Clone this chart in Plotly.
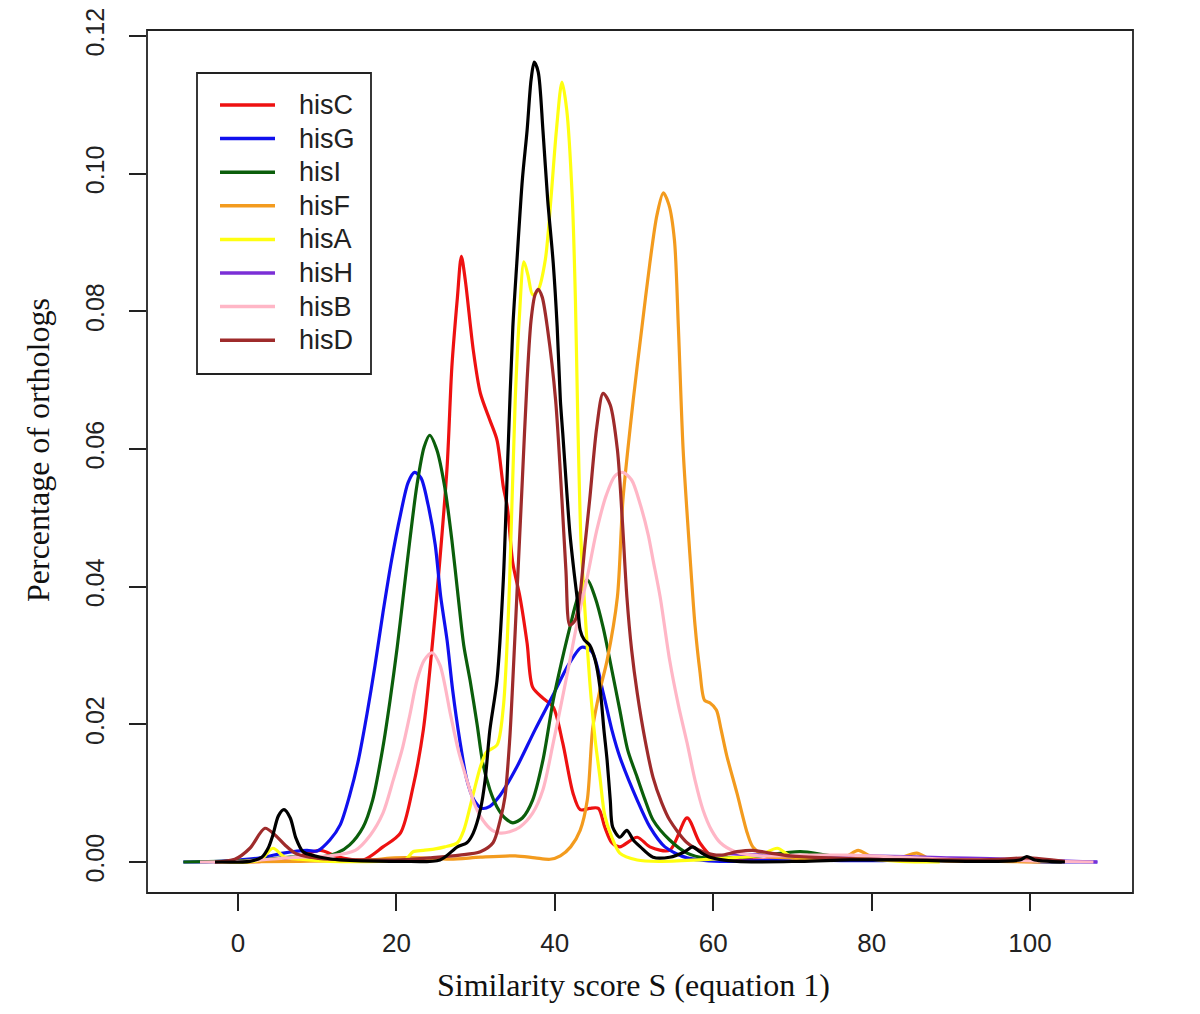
import plotly.graph_objects as go

# ---------------- data ----------------
names = ["hisC", "hisG", "hisI", "hisF", "hisA", "hisH", "hisB", "hisD"]
colors = ["#ee1111", "#1010ee", "#0b5e0b", "#f39b1e", "#ffff10", "#7b2fd6", "#ffb6c6", "#9e2b2b"]

hisC_x = [-3, 3, 7, 10.4, 12.5, 15.8, 18.3, 20.5, 22.1, 23.4, 24.5, 25.2, 26.4, 27.0, 27.7, 28.2, 28.7, 29.7, 30.6,
          31.8, 32.7, 33.5, 34.0, 34.7, 35.6, 36.5, 37.2, 38.5, 39.8, 41.0, 42.3, 43.2, 44.4, 45.5, 46.3, 47.2, 48.2,
          50.4, 52.0, 54.5, 56.7, 58.3, 60.0, 65, 75, 90, 104]
hisC_y = [0, 0.0001, 0.0006, 0.0017, 0.0008, 0.0003, 0.0022, 0.0042, 0.0109, 0.0192, 0.0312, 0.0400, 0.0574,
          0.0719, 0.0820, 0.0880, 0.0845, 0.0744, 0.0681, 0.0642, 0.0613, 0.0545, 0.0516, 0.0434, 0.0385, 0.0318,
          0.0254, 0.0238, 0.0225, 0.0173, 0.0100, 0.0076, 0.0078, 0.0078, 0.0051, 0.0028, 0.0022, 0.0036, 0.0022,
          0.0017, 0.0064, 0.0028, 0.0007, 0.0003, 0.0004, 0.0002, 0]

hisG_x = [-6.9, -2.3, 2.8, 5.7, 8.7, 10.0, 11.6, 12.9, 14.1, 15.2, 16.3, 17.3, 18.3, 19.4, 20.5, 21.5, 22.3, 23.1,
          24.0, 24.9, 25.6, 26.4, 27.1, 28.0, 28.9, 29.8, 30.8, 31.8, 33.1, 35.2, 37.5, 39.8, 41.7, 43.4, 44.7, 46.1,
          47.2, 48.2, 50.4, 52.0, 53.9, 56.7, 60.9, 70, 80, 90, 95, 100, 108.5]
hisG_y = [0, 0.0001, 0.0006, 0.0013, 0.0017, 0.0016, 0.0032, 0.0054, 0.0097, 0.0148, 0.0216, 0.0286, 0.0362,
          0.0439, 0.0504, 0.0552, 0.0566, 0.0558, 0.0519, 0.0461, 0.0385, 0.0322, 0.0250, 0.0177, 0.0119, 0.0090,
          0.0078, 0.0081, 0.0097, 0.0138, 0.0192, 0.0243, 0.0286, 0.0312, 0.0305, 0.0246, 0.0192, 0.0153, 0.0090,
          0.0051, 0.0022, 0.0006, 0.0001, 0.0003, 0.0002, 0.0005, 0.0004, 0.0001, 0]

hisI_x = [-6.9, -2.3, 2.8, 6.6, 10.4, 12.5, 14.1, 15.8, 17.0, 18.3, 19.2, 20.1, 20.8, 21.7, 22.6, 23.5, 24.2, 25.1,
          26.1, 27.0, 27.8, 28.5, 29.3, 30.2, 30.9, 31.8, 32.7, 33.7, 34.7, 35.9, 37.2, 38.5, 39.8, 40.9, 41.9, 42.9,
          44.1, 45.1, 46.1, 47.2, 48.2, 49.2, 50.4, 51.4, 52.4, 54.5, 56.7, 59.0, 65, 71, 75, 85, 100, 104]
hisI_y = [0, 0.0001, 0.0003, 0.0007, 0.0007, 0.0013, 0.0025, 0.0051, 0.0090, 0.0167, 0.0235, 0.0312, 0.0380,
          0.0468, 0.0548, 0.0603, 0.0620, 0.0599, 0.0545, 0.0468, 0.0385, 0.0315, 0.0264, 0.0199, 0.0144, 0.0105,
          0.0080, 0.0064, 0.0057, 0.0064, 0.0090, 0.0148, 0.0235, 0.0293, 0.0341, 0.0384, 0.0410, 0.0384, 0.0341,
          0.0279, 0.0221, 0.0163, 0.0123, 0.0090, 0.0061, 0.0032, 0.0013, 0.0006, 0.0008, 0.0015, 0.0009, 0.0003,
          0.0001, 0]

hisF_x = [-2.3, 7.8, 16.7, 19.8, 23.0, 26.8, 30.6, 35.0, 37.5, 39.4, 40.7, 42.0, 43.2, 44.1, 44.8, 45.7, 46.6, 47.9,
          48.6, 49.9, 51.0, 52.0, 52.9, 53.7, 54.4, 55.1, 55.6, 56.2, 57.1, 57.7, 58.3, 58.9, 59.6, 60.4, 61.0, 61.7,
          63.0, 64.3, 65.0, 66.5, 69.7, 73.5, 76.6, 78.3, 79.8, 83.0, 85.7, 87.4, 91.2, 96.2, 101.3]
hisF_y = [0, 0.0001, 0.0003, 0.0006, 0.0006, 0.0004, 0.0007, 0.0009, 0.0006, 0.0004, 0.0009, 0.0022, 0.0046,
          0.0090, 0.0196, 0.0250, 0.0293, 0.0385, 0.0526, 0.0671, 0.0777, 0.0870, 0.0940, 0.0972, 0.0955, 0.0904,
          0.0777, 0.0599, 0.0439, 0.0344, 0.0279, 0.0235, 0.0231, 0.0221, 0.0192, 0.0155, 0.0100, 0.0042, 0.0022,
          0.0009, 0.0006, 0.0004, 0.0007, 0.0017, 0.0009, 0.0004, 0.0013, 0.0004, 0.0001, 0.0001, 0]

hisA_x = [-2.3, 2.8, 4.4, 5.9, 7.8, 11.6, 17.9, 21.1, 22.1, 23.4, 24.9, 26.1, 27.7, 28.5, 29.3, 30.6, 31.4, 32.7,
          33.5, 34.0, 34.3, 35.0, 35.5, 36.1, 36.6, 37.2, 37.9, 38.8, 39.5, 40.2, 40.9, 41.5, 42.2, 42.6, 42.9, 43.3,
          43.8, 44.4, 45.1, 45.7, 46.3, 47.2, 48.2, 50.4, 53.3, 58.3, 63.4, 65.9, 68.1, 69.7, 74.7, 77.3, 79.8, 83.6,
          88.6]
hisA_y = [0, 0.0003, 0.0020, 0.0007, 0.0004, 0.0001, 0.0001, 0.0003, 0.0015, 0.0017, 0.0019, 0.0022, 0.0028,
          0.0046, 0.0080, 0.0138, 0.0160, 0.0170, 0.0225, 0.0323, 0.0410, 0.0671, 0.0787, 0.0872, 0.0853, 0.0824,
          0.0831, 0.0875, 0.0962, 0.1063, 0.1133, 0.1093, 0.0966, 0.0817, 0.0642, 0.0468, 0.0366, 0.0264, 0.0177,
          0.0123, 0.0068, 0.0036, 0.0013, 0.0003, 0.0001, 0.0003, 0.0007, 0.0010, 0.0020, 0.0009, 0.0007, 0.0007,
          0.0004, 0.0001, 0]

# hisH is almost entirely hidden under the later curves; only its tail end shows
hisH_x = [62, 70, 80, 90, 95, 100, 108.5]
hisH_y = [0.0012, 0.0009, 0.0009, 0.0006, 0.0005, 0.0003, 0]

hisB_x = [-4.8, 0.3, 4.0, 7.8, 11.6, 14.8, 16.7, 18.3, 19.6, 20.8, 21.7, 22.6, 23.5, 24.5, 25.5, 26.8, 27.8, 28.9,
          29.9, 30.9, 32.1, 33.1, 34.3, 35.6, 37.2, 38.5, 39.8, 40.9, 41.9, 42.9, 44.1, 45.3, 46.5, 47.6, 48.6, 49.7,
          50.8, 51.8, 52.4, 53.3, 54.5, 55.6, 56.7, 57.7, 58.7, 59.8, 60.9, 62.8, 65.9, 71.0, 77.3, 83.6, 89.9, 96.2,
          102.5, 108.0]
hisB_y = [0, 0.0001, 0.0004, 0.0007, 0.0009, 0.0017, 0.0039, 0.0071, 0.0119, 0.0167, 0.0214, 0.0264, 0.0293,
          0.0304, 0.0286, 0.0216, 0.0163, 0.0119, 0.0083, 0.0061, 0.0046, 0.0042, 0.0044, 0.0051, 0.0071, 0.0105,
          0.0173, 0.0235, 0.0293, 0.0352, 0.0414, 0.0482, 0.0533, 0.0561, 0.0566, 0.0555, 0.0519, 0.0475, 0.0439,
          0.0385, 0.0293, 0.0228, 0.0173, 0.0119, 0.0076, 0.0046, 0.0028, 0.0015, 0.0009, 0.0010, 0.0010, 0.0007,
          0.0004, 0.0003, 0.0001, 0]

hisD_x = [-2.9, -0.4, 1.5, 3.4, 4.7, 5.9, 7.2, 9.1, 11.6, 15.4, 20.5, 24.2, 28.0, 30.6, 32.2, 33.1, 33.7, 34.3, 34.7,
          35.2, 35.9, 36.5, 37.0, 37.5, 37.9, 38.4, 39.1, 40.1, 40.9, 41.4, 41.9, 42.6, 43.2, 43.8, 44.4, 45.3, 46.1,
          47.0, 47.9, 48.5, 49.1, 49.7, 50.4, 51.4, 52.4, 53.5, 54.5, 56.7, 58.7, 60.9, 63.0, 65.0, 67.2, 69.7, 74.7,
          83.6, 89.9, 96.2, 99.6, 104.4]
hisD_y = [0, 0.0004, 0.0020, 0.0049, 0.0039, 0.0025, 0.0013, 0.0007, 0.0004, 0.0003, 0.0003, 0.0006, 0.0010,
          0.0015, 0.0028, 0.0061, 0.0094, 0.0177, 0.0264, 0.0385, 0.0555, 0.0700, 0.0787, 0.0824, 0.0832, 0.0821,
          0.0773, 0.0671, 0.0526, 0.0424, 0.0344, 0.0352, 0.0390, 0.0460, 0.0526, 0.0632, 0.0681, 0.0664, 0.0599,
          0.0501, 0.0385, 0.0308, 0.0246, 0.0177, 0.0123, 0.0086, 0.0061, 0.0028, 0.0015, 0.0010, 0.0015, 0.0017,
          0.0013, 0.0009, 0.0006, 0.0003, 0.0003, 0.0004, 0.0006, 0.0001]

# black curve (drawn in the reference but not listed in its legend)
other_x = [-2.9, 1.5, 3.0, 3.8, 4.4, 5.1, 5.8, 6.6, 7.3, 8.2, 9.3, 10.4, 12.9, 20.5, 25.5, 27.7, 28.9, 29.7, 30.6,
           31.2, 31.8, 32.7, 33.5, 34.1, 34.7, 35.2, 35.9, 36.5, 37.0, 37.4, 37.9, 38.5, 39.1, 39.8, 40.3, 40.7, 41.0,
           41.5, 41.9, 42.4, 42.8, 43.2, 43.7, 44.4, 45.1, 45.7, 46.2, 46.6, 47.0, 47.3, 48.2, 49.1, 49.9, 50.8, 52.4,
           54.5, 56.4, 57.4, 58.3, 59.6, 63.0, 71.0, 77.3, 83.6, 93.7, 98.7, 99.6, 100.6, 102.5, 104.4]
other_y = [0, 0.0001, 0.0007, 0.0020, 0.0039, 0.0067, 0.0076, 0.0064, 0.0035, 0.0015, 0.0010, 0.0007, 0.0003,
           0.0001, 0.0003, 0.0022, 0.0028, 0.0042, 0.0076, 0.0119, 0.0192, 0.0264, 0.0410, 0.0599, 0.0777, 0.0870,
           0.0991, 0.1063, 0.1136, 0.1162, 0.1148, 0.1063, 0.0962, 0.0870, 0.0777, 0.0671, 0.0623, 0.0540, 0.0478,
           0.0424, 0.0385, 0.0337, 0.0323, 0.0315, 0.0293, 0.0254, 0.0192, 0.0148, 0.0090, 0.0051, 0.0036, 0.0046,
           0.0032, 0.0022, 0.0007, 0.0007, 0.0015, 0.0022, 0.0015, 0.0007, 0.0001, 0.0001, 0.0003, 0.0003, 0.0001,
           0.0003, 0.0008, 0.0003, 0.0001, 0]

x_ticks = [0, 20, 40, 60, 80, 100]
y_ticks = [0.00, 0.02, 0.04, 0.06, 0.08, 0.10, 0.12]
x_title = "Similarity score S (equation 1)"
y_title = "Percentage of orthologs"

series_x = [hisC_x, hisG_x, hisI_x, hisF_x, hisA_x, hisH_x, hisB_x, hisD_x]
series_y = [hisC_y, hisG_y, hisI_y, hisF_y, hisA_y, hisH_y, hisB_y, hisD_y]

# ---------------- figure ----------------
fig = go.Figure()
for nm, col, xs, ys in zip(names, colors, series_x, series_y):
    fig.add_trace(go.Scatter(x=xs, y=ys, mode="lines", name=nm, showlegend=False,
                             line=dict(color=col, width=3.2, shape="spline", smoothing=0.8)))
fig.add_trace(go.Scatter(x=other_x, y=other_y, mode="lines", name="other", showlegend=False,
                         line=dict(color="#000000", width=3.2, shape="spline", smoothing=0.8)))

W, H = 1200, 1014
L, R, T, B = 147, 67, 30, 121
pw, ph = W - L - R, H - T - B


def px2paper(px, py):
    return (px - L) / pw, (H - B - py) / ph


shapes = []
annotations = []
# plot box
shapes.append(dict(type="rect", xref="paper", yref="paper", x0=0, y0=0, x1=1, y1=1,
                   line=dict(color="#222222", width=1.8), fillcolor="rgba(0,0,0,0)"))
# manual legend (box, line samples, labels)
bx0, by0 = px2paper(197, 374)
bx1, by1 = px2paper(371, 73)
shapes.append(dict(type="rect", xref="paper", yref="paper", x0=bx0, y0=by0, x1=bx1, y1=by1,
                   line=dict(color="#222222", width=1.8), fillcolor="white"))
for i, (nm, col) in enumerate(zip(names, colors)):
    py = 105 + 33.6 * i
    lx0, ly = px2paper(220, py)
    lx1, _ = px2paper(275, py)
    tx, _ = px2paper(297, py)
    shapes.append(dict(type="line", xref="paper", yref="paper", x0=lx0, x1=lx1, y0=ly, y1=ly,
                       line=dict(color=col, width=3.5)))
    annotations.append(dict(xref="paper", yref="paper", x=tx, y=ly, text=nm, showarrow=False,
                            xanchor="left", yanchor="middle",
                            font=dict(family="Liberation Sans, Arial", size=27, color="#222222")))

# axis titles placed as in the reference
xtx, xty = px2paper(633, 985)
annotations.append(dict(xref="paper", yref="paper", x=xtx, y=xty, text=x_title, showarrow=False,
                        xanchor="center", yanchor="middle",
                        font=dict(family="Liberation Serif, Times New Roman", size=32, color="#111111")))
ytx, yty = px2paper(38, 450)
annotations.append(dict(xref="paper", yref="paper", x=ytx, y=yty, text=y_title, showarrow=False,
                        textangle=-90, xanchor="center", yanchor="middle",
                        font=dict(family="Liberation Serif, Times New Roman", size=32, color="#111111")))

fig.update_layout(
    width=W, height=H,
    margin=dict(l=L, r=R, t=T, b=B, pad=0),
    paper_bgcolor="white", plot_bgcolor="white",
    shapes=shapes, annotations=annotations,
    xaxis=dict(range=[-11.49, 113.0], tickvals=x_ticks, ticks="outside", ticklen=17, tickwidth=1.8,
               tickcolor="#222222", showgrid=False, zeroline=False, showline=False, automargin=False,
               tickfont=dict(family="Liberation Sans, Arial", size=26, color="#222222"),
               ticklabelstandoff=10),
    yaxis=dict(range=[-0.0045, 0.12087], tickvals=y_ticks, tickformat=".2f", ticks="outside", ticklen=17,
               tickwidth=1.8, tickcolor="#222222", showgrid=False, zeroline=False, showline=False,
               automargin=False, tickangle=-90,
               tickfont=dict(family="Liberation Sans, Arial", size=25, color="#222222"),
               ticklabelstandoff=15),
)

fig.write_html("out.html", config={"displayModeBar": False},
               post_script="document.body.style.margin='0px';document.body.style.overflow='hidden';")
